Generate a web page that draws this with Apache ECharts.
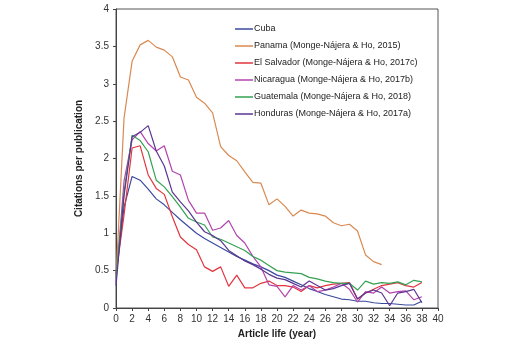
<!DOCTYPE html>
<html>
<head>
<meta charset="utf-8">
<script src="https://cdn.jsdelivr.net/npm/echarts@6/dist/echarts.min.js"></script>
<style>
  html, body { margin: 0; padding: 0; background: #fff; }
  #chart { width: 528px; height: 344px; }
</style>
</head>
<body>
<div id="chart"></div>
<script>
// article life in years
const years = [0,1,2,3,4,5,6,7,8,9,10,11,12,13,14,15,16,17,18,19,20,21,22,23,24,25,26,27,28,29,30,31,32,33,34,35,36,37,38];

const cuba = [0.45, 1.35, 1.76, 1.71, 1.59, 1.46, 1.38, 1.28, 1.18, 1.09, 1.0, 0.93, 0.87, 0.81, 0.75, 0.69, 0.64, 0.59, 0.55, 0.5, 0.44, 0.41, 0.36, 0.31, 0.26, 0.22, 0.18, 0.15, 0.12, 0.11, 0.09, 0.09, 0.07, 0.06, 0.06, 0.05, 0.04, 0.04, 0.09];
const panama = [0.4, 2.54, 3.3, 3.52, 3.58, 3.49, 3.45, 3.36, 3.09, 3.05, 2.82, 2.74, 2.61, 2.16, 2.04, 1.97, 1.82, 1.68, 1.67, 1.38, 1.46, 1.36, 1.23, 1.31, 1.27, 1.26, 1.23, 1.14, 1.1, 1.12, 1.03, 0.71, 0.62, 0.58];
const elSalvador = [0.45, 1.25, 2.14, 2.17, 1.78, 1.6, 1.52, 1.22, 0.95, 0.85, 0.78, 0.55, 0.49, 0.55, 0.29, 0.44, 0.27, 0.27, 0.33, 0.36, 0.3, 0.3, 0.28, 0.22, 0.3, 0.27, 0.3, 0.32, 0.33, 0.34, 0.12, 0.2, 0.25, 0.3, 0.32, 0.34, 0.3, 0.28, 0.34];
const nicaragua = [0.35, 1.7, 2.25, 2.36, 2.2, 2.1, 2.17, 1.83, 1.78, 1.44, 1.27, 1.27, 1.04, 1.07, 1.17, 0.97, 0.87, 0.69, 0.55, 0.31, 0.29, 0.15, 0.3, 0.24, 0.3, 0.22, 0.24, 0.28, 0.33, 0.25, 0.08, 0.22, 0.2, 0.28, 0.2, 0.22, 0.23, 0.11, 0.15];
const guatemala = [0.4, 1.55, 2.31, 2.24, 2.09, 1.71, 1.62, 1.49, 1.35, 1.2, 1.15, 1.11, 0.95, 0.92, 0.87, 0.82, 0.77, 0.69, 0.64, 0.57, 0.5, 0.48, 0.47, 0.46, 0.41, 0.39, 0.36, 0.34, 0.33, 0.33, 0.24, 0.36, 0.32, 0.34, 0.33, 0.35, 0.31, 0.37, 0.35];
const honduras = [0.3, 1.5, 2.29, 2.35, 2.44, 2.1, 1.9, 1.55, 1.42, 1.3, 1.15, 1.02, 0.97, 0.9, 0.77, 0.7, 0.63, 0.58, 0.52, 0.45, 0.4, 0.38, 0.33, 0.28, 0.36, 0.3, 0.24, 0.26, 0.3, 0.33, 0.12, 0.2, 0.24, 0.2, 0.03, 0.2, 0.22, 0.25, 0.07];

const seriesNames = [
  "Cuba",
  "Panama (Monge-Nájera & Ho, 2015)",
  "El Salvador (Monge-Nájera & Ho, 2017c)",
  "Nicaragua (Monge-Nájera & Ho, 2017b)",
  "Guatemala (Monge-Nájera & Ho, 2018)",
  "Honduras (Monge-Nájera & Ho, 2017a)"
];
const seriesData = [cuba, panama, elSalvador, nicaragua, guatemala, honduras];
const seriesColors = ["#3b4a9e", "#d98a52", "#e2363f", "#b444ae", "#35a152", "#5b3592"];

const font = "Liberation Sans, Arial, sans-serif";

const chart = echarts.init(document.getElementById("chart"));

const option = {
  animation: false,
  backgroundColor: "#fff",
  grid: {
    left: 116,
    right: 90,
    top: 9,
    bottom: 36,
    show: true,
    borderColor: "#555",
    borderWidth: 1
  },
  legend: {
    orient: "vertical",
    left: 230,
    top: 19,
    icon: "rect",
    itemWidth: 18,
    itemHeight: 1.5,
    itemGap: 7,
    textStyle: { fontFamily: font, fontSize: 9, lineHeight: 10, color: "#222", padding: [0, 0, 0, -4] },
    data: seriesNames
  },
  xAxis: {
    type: "value",
    min: 0,
    max: 40,
    interval: 2,
    name: "Article life (year)",
    nameLocation: "middle",
    nameGap: 21,
    nameTextStyle: { fontFamily: font, fontSize: 10, fontWeight: "bold", color: "#222" },
    axisLine: { lineStyle: { color: "#444" } },
    axisTick: { show: true, length: 3, lineStyle: { color: "#444" } },
    axisLabel: { fontFamily: font, fontSize: 10, color: "#333", margin: 6 },
    splitLine: { show: false }
  },
  yAxis: {
    type: "value",
    min: 0,
    max: 4,
    interval: 0.5,
    name: "Citations per publication",
    nameLocation: "middle",
    nameGap: 28,
    nameTextStyle: { fontFamily: font, fontSize: 10, fontWeight: "bold", color: "#222" },
    axisLine: { show: true, lineStyle: { color: "#444" } },
    axisTick: { show: true, length: 3, lineStyle: { color: "#444" } },
    axisLabel: { fontFamily: font, fontSize: 10, color: "#333", margin: 7 },
    splitLine: { show: false }
  },
  series: seriesNames.map((name, i) => ({
    name: name,
    type: "line",
    symbol: "none",
    color: seriesColors[i],
    lineStyle: { width: 1.2, color: seriesColors[i] },
    data: seriesData[i].map((v, j) => [years[j], v])
  }))
};

chart.setOption(option);
</script>
</body>
</html>
